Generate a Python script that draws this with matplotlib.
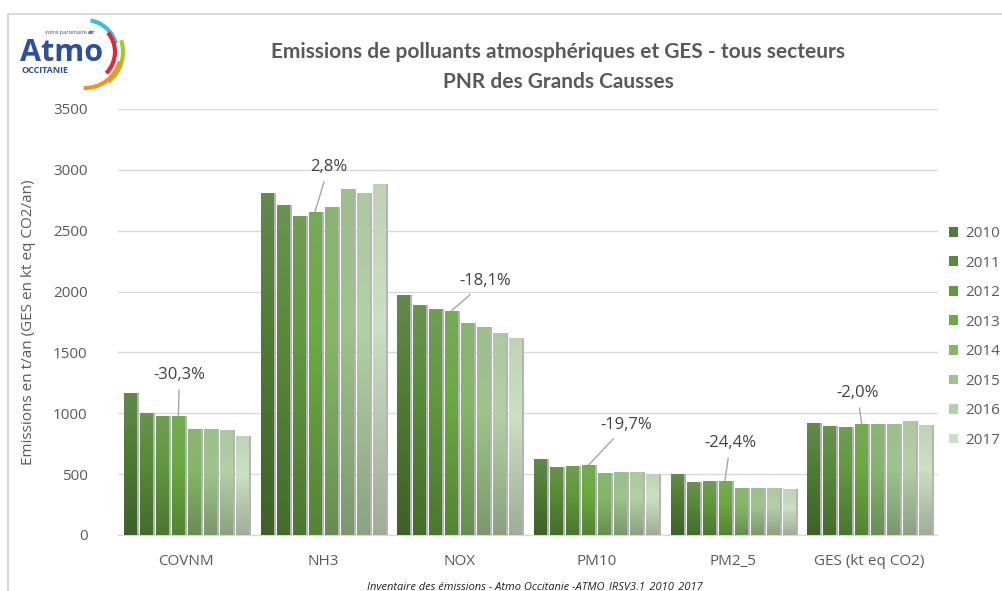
import numpy as np
import matplotlib
matplotlib.use('Agg')
import matplotlib.pyplot as plt
from matplotlib.colors import to_rgb
from matplotlib.patches import Arc

plt.rcParams['font.family'] = ['Open Sans', 'DejaVu Sans']

categories = ["COVNM", "NH3", "NOX", "PM10", "PM2_5", "GES (kt eq CO2)"]
years = ["2010", "2011", "2012", "2013", "2014", "2015", "2016", "2017"]

# une liste par annee, dans l'ordre des categories
v2010 = [1170, 2808, 1975, 625, 499, 920]
v2011 = [1005, 2712, 1890, 561, 438, 898]
v2012 = [980, 2624, 1860, 567, 446, 890]
v2013 = [975, 2654, 1843, 573, 446, 915]
v2014 = [873, 2693, 1742, 509, 389, 909]
v2015 = [868, 2841, 1712, 520, 389, 915]
v2016 = [862, 2808, 1660, 520, 389, 937]
v2017 = [815, 2887, 1616, 502, 377, 902]
values = [v2010, v2011, v2012, v2013, v2014, v2015, v2016, v2017]

evolution = ["-30,3%", "2,8%", "-18,1%", "-19,7%", "-24,4%", "-2,0%"]
# position des etiquettes (x, y en unites de donnees)
label_pos = [(-0.05, 1315), (1.04, 3024), (2.19, 2087), (3.22, 904), (3.98, 756), (4.91, 1167)]

colors = ["#4f7d34", "#578b38", "#60993d", "#6aaa41", "#84b668", "#9dc48b", "#b3d0a5", "#cbdfc2"]

fig = plt.figure(figsize=(10.03, 5.91), dpi=100)

# fond / cadre et logo dans un axe en pixels
bg = fig.add_axes([0, 0, 1, 1])
bg.set_xlim(0, 1003)
bg.set_ylim(591, 0)
bg.axis('off')
bg.plot([8, 8, 1003], [591, 13.5, 13.5], color="#d9d9d9", lw=1.5)

blue = "#2c4f9e"
bg.text(20, 61, "Atmo", color=blue, fontsize=22, fontweight='bold', va='baseline')
bg.text(22, 73, "OCCITANIE", color=blue, fontsize=6.5, fontweight='bold', va='baseline')
bg.text(87, 34, "votre partenaire", color=blue, fontsize=4, va='baseline', ha='right')
bg.text(88, 34, "air", color=blue, fontsize=4, fontweight='bold', va='baseline', ha='left')
# arcs du logo (axe y inverse : angles negatifs = vers le haut)
for r, a1, a2, c in [(32, 15, 80, "#3bbde8"), (30, -45, 40, "#e3263b"),
                     (38, -52, 18, "#9ccb2c"), (36, -92, -15, "#f39322")]:
    bg.add_patch(Arc((85, 52), 2 * r, 2 * r, theta1=-a2, theta2=-a1, color=c, lw=3))

bg.text(558, 52, "Emissions de polluants atmosphériques et GES - tous secteurs",
        ha='center', va='center', fontsize=15, fontweight='bold', color="#595959",
        family=['Lato', 'DejaVu Sans'])
bg.text(558, 82, "PNR des Grands Causses", ha='center', va='center', fontsize=15,
        fontweight='bold', color="#595959", family=['Lato', 'DejaVu Sans'])
bg.text(535, 589, "Inventaire des émissions - Atmo Occitanie -ATMO_IRSV3.1_2010_2017",
        ha='center', va='baseline', fontsize=8, style='italic', color="#222222")

ax = fig.add_axes([118 / 1003, 56 / 591, 820 / 1003, 426 / 591])
ax.patch.set_alpha(0)

x = np.arange(len(categories))
step = 0.117
width = 0.093


def shade(c, t):
    r, g, b = to_rgb(c)
    dark = np.array([r, g, b]) * 0.78
    top = np.array([r, g, b]) * 0.75 + np.array([0.62, 0.68, 0.6]) * 0.25
    mid = np.array([r, g, b])
    out = np.where(t < 0.6, dark + (mid - dark) * (t / 0.6),
                   mid + (top - mid) * ((t - 0.6) / 0.4))
    return out


t = np.linspace(0, 1, 64)[:, None, None]
for i, (yr, vals) in enumerate(zip(years, values)):
    pos = x + (i - 3.5) * step
    ax.bar(pos + 0.016, vals, width, color="#b4b4b4", zorder=2)
    bars = ax.bar(pos, vals, width, color=colors[i], label=yr, zorder=3)
    grad = shade(colors[i], t)
    for p in bars:
        bx, by = p.get_x(), p.get_y()
        img = ax.imshow(grad, extent=[bx, bx + p.get_width(), by, by + p.get_height()],
                        aspect='auto', origin='lower', zorder=4, interpolation='bilinear')
        img.set_clip_path(p)

for j, txt in enumerate(evolution):
    bx = x[j] + (3 - 3.5) * step
    ax.annotate(txt, xy=(bx, v2013[j]), xytext=label_pos[j], ha='center', va='center',
                fontsize=12, color="#404040",
                arrowprops=dict(arrowstyle='-', color="#a6a6a6", lw=1, shrinkA=3, shrinkB=0))

ax.set_xlim(-0.5, 5.5)
ax.set_ylim(0, 3500)
ax.set_yticks(np.arange(0, 3501, 500))
ax.set_xticks(x)
ax.set_xticklabels(categories)
ax.grid(axis='y', color="#d9d9d9", lw=1, zorder=0)
ax.set_axisbelow(True)
for s in ['top', 'right', 'left']:
    ax.spines[s].set_visible(False)
ax.spines['bottom'].set_color("#d9d9d9")
ax.tick_params(length=0, labelsize=11, labelcolor="#595959")
ax.tick_params(axis='y', pad=22)
ax.tick_params(axis='x', pad=14)
ax.set_ylabel("Emissions en t/an (GES en kt eq CO2/an)", fontsize=11, color="#595959",
              labelpad=12)

leg = ax.legend(loc='upper left', bbox_to_anchor=(1.0, 0.75), frameon=False,
                fontsize=11, labelcolor="#595959", handlelength=0.6, handleheight=0.6,
                handletextpad=0.5, labelspacing=0.95, borderaxespad=0.3)

fig.savefig("out.png", dpi=100)
